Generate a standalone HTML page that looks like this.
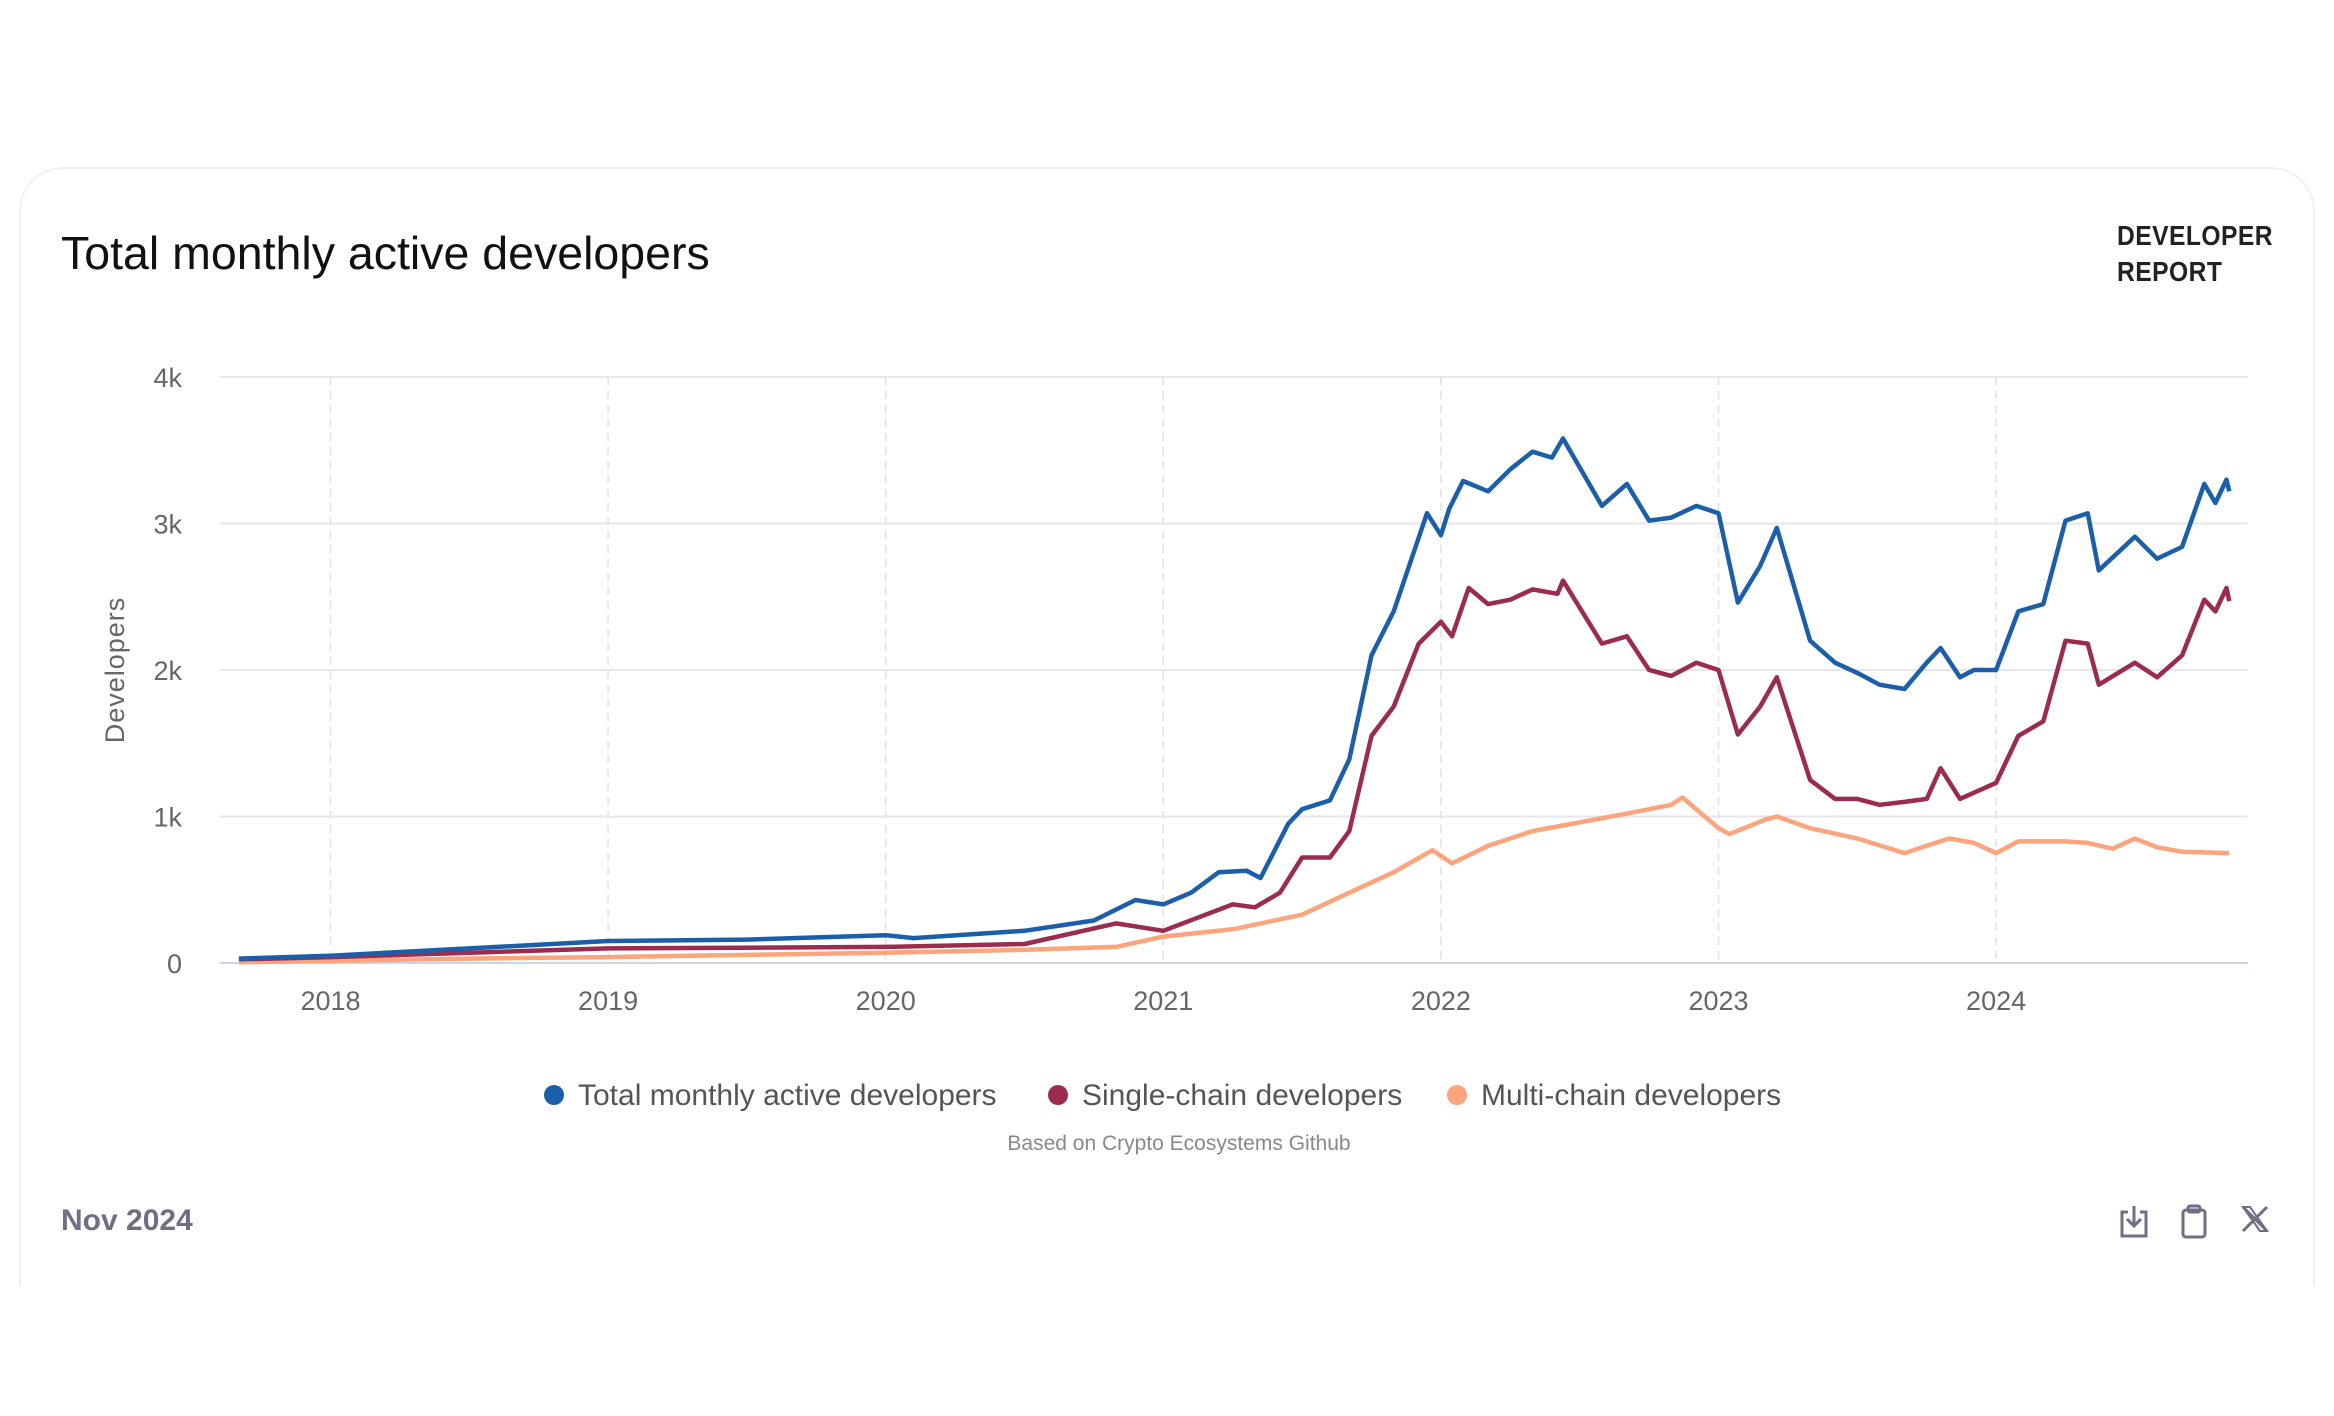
<!DOCTYPE html>
<html><head><meta charset="utf-8">
<style>
html,body{margin:0;padding:0;background:#fff;}
body{width:2334px;height:1416px;position:relative;overflow:hidden;font-family:"Liberation Sans",sans-serif;}
#card{position:absolute;left:19px;top:167px;width:2296px;height:1120px;border:2px solid #f0f0f4;border-bottom:none;border-radius:44px 44px 0 0;box-sizing:border-box;}
#title{position:absolute;left:61px;top:226px;font-size:46.5px;color:#111;}
#brand{position:absolute;left:2117px;top:218px;font-size:28px;font-weight:bold;color:#222;line-height:36px;letter-spacing:0.5px;transform:scaleX(0.88);transform-origin:left;}
#footdate{position:absolute;left:61px;top:1204px;font-size:30px;font-weight:bold;color:#6e6e85;}
.icon{position:absolute;top:1204px;}
svg text{font-family:"Liberation Sans",sans-serif;}
</style></head>
<body>
<div id="card"></div>
<div id="title">Total monthly active developers</div>
<div id="brand">DEVELOPER<br>REPORT</div>
<div id="footdate">Nov 2024</div>
<svg class="icon" style="left:2118px" width="32" height="36" viewBox="0 0 32 36"><path d="M10 8H4v24h24V8h-6" fill="none" stroke="#6e6e85" stroke-width="3"/><path d="M16 2v20M9 15l7 7 7-7" fill="none" stroke="#6e6e85" stroke-width="3"/></svg>
<svg class="icon" style="left:2180px" width="28" height="36" viewBox="0 0 28 36"><rect x="3" y="6" width="22" height="27" rx="3" fill="none" stroke="#6e6e85" stroke-width="3"/><rect x="8" y="2" width="12" height="6" rx="2" fill="none" stroke="#6e6e85" stroke-width="3"/></svg>
<svg class="icon" style="left:2240px" width="30" height="30" viewBox="0 0 30 30"><path d="M3 3L27 27M27 3L3 27" stroke="#6e6e85" stroke-width="3"/><path d="M3 3h7l17 24h-7z" fill="none" stroke="#6e6e85" stroke-width="2"/></svg>

<svg id="chart" width="2334" height="1416" style="position:absolute;left:0;top:0"></svg>

<script>
const yTicks=[0,1000,2000,3000,4000];
const yTickLabels=["0","1k","2k","3k","4k"];
const xTicks=[2018,2019,2020,2021,2022,2023,2024];
const totalDates=[2017.67,2018,2018.5,2019,2019.5,2020,2020.1,2020.5,2020.75,2020.9,2021,2021.1,2021.2,2021.3,2021.35,2021.45,2021.5,2021.6,2021.67,2021.75,2021.83,2021.95,2022.0,2022.03,2022.08,2022.17,2022.25,2022.33,2022.4,2022.44,2022.58,2022.67,2022.75,2022.83,2022.92,2023.0,2023.07,2023.15,2023.21,2023.33,2023.42,2023.5,2023.58,2023.67,2023.75,2023.8,2023.87,2023.92,2024.0,2024.08,2024.17,2024.25,2024.33,2024.37,2024.5,2024.58,2024.67,2024.75,2024.79,2024.83,2024.84];
const totalValues=[30,50,100,150,160,190,170,220,290,430,400,480,620,630,580,950,1050,1110,1390,2100,2400,3070,2920,3100,3290,3220,3370,3490,3450,3580,3120,3270,3020,3040,3120,3070,2460,2710,2970,2200,2050,1980,1900,1870,2050,2150,1950,2000,2000,2400,2450,3020,3070,2680,2910,2760,2840,3270,3140,3300,3220];
const singleDates=[2017.67,2018,2018.5,2019,2020,2020.5,2020.83,2021,2021.25,2021.33,2021.42,2021.5,2021.6,2021.67,2021.75,2021.83,2021.92,2022,2022.04,2022.1,2022.17,2022.25,2022.33,2022.42,2022.44,2022.58,2022.67,2022.75,2022.83,2022.92,2023,2023.07,2023.15,2023.21,2023.33,2023.42,2023.5,2023.58,2023.67,2023.75,2023.8,2023.87,2024,2024.08,2024.17,2024.25,2024.33,2024.37,2024.5,2024.58,2024.67,2024.75,2024.79,2024.83,2024.84];
const singleValues=[25,40,70,100,110,130,270,220,400,380,480,720,720,900,1550,1750,2180,2330,2230,2560,2450,2480,2550,2520,2610,2180,2230,2000,1960,2050,2000,1560,1750,1950,1250,1120,1120,1080,1100,1120,1330,1120,1230,1550,1650,2200,2180,1900,2050,1950,2100,2480,2400,2560,2470];
const multiDates=[2017.67,2018.5,2019,2020,2020.5,2020.83,2021,2021.25,2021.5,2021.67,2021.83,2021.97,2022.04,2022.17,2022.33,2022.5,2022.67,2022.83,2022.87,2023,2023.04,2023.17,2023.21,2023.33,2023.5,2023.67,2023.75,2023.83,2023.92,2024,2024.08,2024.25,2024.33,2024.42,2024.5,2024.58,2024.67,2024.84];
const multiValues=[5,30,40,70,90,110,180,230,330,480,620,770,680,800,900,960,1020,1080,1130,920,880,980,1000,920,850,750,800,850,820,750,830,830,820,780,850,790,760,750];
const seriesNames=["Total monthly active developers","Single-chain developers","Multi-chain developers"];

const NS="http://www.w3.org/2000/svg";
const svg=document.getElementById('chart');
const X0=220,X1=2248,Y0=963,PXK=146.5;
function xs(t){return 330.5+(t-2018)*277.6;}
function ys(v){return Y0-v/1000*PXK;}
function mk(tag,attrs){const e=document.createElementNS(NS,tag);for(const k in attrs)e.setAttribute(k,attrs[k]);svg.appendChild(e);return e;}

yTicks.forEach((v,i)=>{
  const l=mk('line',{x1:X0,x2:X1,y1:ys(v),y2:ys(v),stroke:i===0?'#ccd6eb':'#e6e6ec','stroke-width':2});
  
  
  const t=mk('text',{x:182,y:ys(v)+10,'text-anchor':'end','font-size':27,fill:'#666'});
  t.textContent=yTickLabels[i];
  
  
});
xTicks.forEach(yr=>{
  const l=mk('line',{x1:xs(yr),x2:xs(yr),y1:ys(4000),y2:Y0,stroke:'#e0e0e6','stroke-width':1.5,'stroke-dasharray':'8,6'});
  
  
  const t=mk('text',{x:xs(yr),y:1010,'text-anchor':'middle','font-size':27,fill:'#666'});
  t.textContent=String(yr);
  
  
});
const yt=mk('text',{x:0,y:0,'text-anchor':'middle','font-size':27,fill:'#666',transform:'translate(124,670) rotate(-90)','letter-spacing':1});
yt.textContent='Developers';



const series=[[multiDates,multiValues,'#fca47c','multi-chain-line'],[singleDates,singleValues,'#9b2c4e','single-chain-line'],[totalDates,totalValues,'#1a5fa8','total-line']];
series.forEach(s=>{
  const d=s[0].map((t,i)=>(i?'L':'M')+xs(t).toFixed(1)+','+ys(s[1][i]).toFixed(1)).join('');
  const p=mk('path',{d:d,fill:'none',stroke:s[2],'stroke-width':4.5,'stroke-linejoin':'round'});
  
  
});

const legColors=['#1a5fa8','#9b2c4e','#fca47c'];
const legX=[554,1058,1457];
seriesNames.forEach((n,i)=>{
  const c=mk('circle',{cx:legX[i],cy:1095,r:10,fill:legColors[i]});
  
  
  const t=mk('text',{x:legX[i]+24,y:1105,'font-size':30,fill:'#555'});
  t.textContent=n;
  
  
});
const src=mk('text',{x:1179,y:1150,'text-anchor':'middle','font-size':21,fill:'#888'});
src.textContent='Based on Crypto Ecosystems Github';


</script>
</body></html>
